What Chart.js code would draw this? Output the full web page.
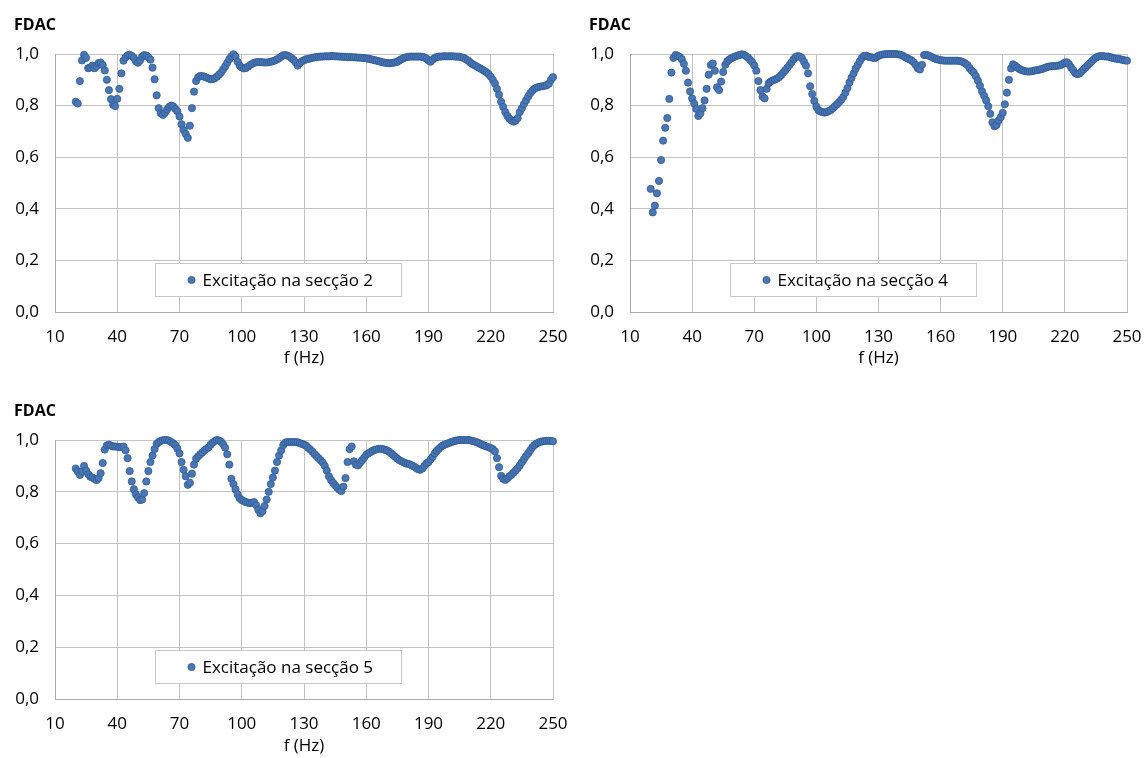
<!DOCTYPE html>
<html><head><meta charset="utf-8">
<script src="https://cdn.jsdelivr.net/npm/chart.js@4.4.1/dist/chart.umd.min.js"></script>
<style>
html,body{margin:0;padding:0;background:#fff;width:1146px;height:758px;overflow:hidden;}
.box{position:absolute;}
canvas{display:block;}
</style></head><body>
<div class="box" style="left:0;top:0;width:573px;height:370px"><canvas id="c2" width="573" height="370"></canvas></div>
<div class="box" style="left:575px;top:0;width:571px;height:370px"><canvas id="c4" width="571" height="370"></canvas></div>
<div class="box" style="left:0;top:385px;width:573px;height:373px"><canvas id="c5" width="573" height="373"></canvas></div>
<script>
// Frequencies (Hz)
const freq = [
 20,21,22,23,24,25,26,27,28,29, 30,31,32,33,34,35,36,37,38,39,
 40,41,42,43,44,45,46,47,48,49, 50,51,52,53,54,55,56,57,58,59,
 60,61,62,63,64,65,66,67,68,69, 70,71,72,73,74,75,76,77,78,79,
 80,81,82,83,84,85,86,87,88,89, 90,91,92,93,94,95,96,97,98,99,
 100,101,102,103,104,105,106,107,108,109, 110,111,112,113,114,115,116,117,118,119,
 120,121,122,123,124,125,126,127,128,129, 130,131,132,133,134,135,136,137,138,139,
 140,141,142,143,144,145,146,147,148,149, 150,151,152,153,154,155,156,157,158,159,
 160,161,162,163,164,165,166,167,168,169, 170,171,172,173,174,175,176,177,178,179,
 180,181,182,183,184,185,186,187,188,189, 190,191,192,193,194,195,196,197,198,199,
 200,201,202,203,204,205,206,207,208,209, 210,211,212,213,214,215,216,217,218,219,
 220,221,222,223,224,225,226,227,228,229, 230,231,232,233,234,235,236,237,238,239,
 240,241,242,243,244,245,246,247,248,249, 250
];

// FDAC – excitação na secção 2
const fdacSec2 = [
 0.815,0.808,0.895,0.975,0.997,0.985,0.945,0.948,0.955,0.945,
 0.953,0.965,0.967,0.957,0.936,0.900,0.860,0.825,0.803,0.798,
 0.826,0.865,0.925,0.974,0.987,0.995,0.997,0.993,0.985,0.972,
 0.966,0.975,0.990,0.996,0.994,0.987,0.978,0.947,0.902,0.840,
 0.790,0.770,0.764,0.772,0.785,0.795,0.800,0.797,0.787,0.778,
 0.758,0.728,0.705,0.690,0.675,0.722,0.790,0.854,0.895,0.910,
 0.915,0.914,0.912,0.909,0.905,0.902,0.903,0.906,0.912,0.920,
 0.928,0.940,0.952,0.966,0.980,0.991,0.999,0.990,0.970,0.955,
 0.948,0.944,0.946,0.951,0.957,0.962,0.966,0.968,0.969,0.969,
 0.968,0.967,0.967,0.968,0.970,0.972,0.975,0.979,0.984,0.990,
 0.995,0.996,0.994,0.990,0.984,0.977,0.968,0.955,0.965,0.972,
 0.976,0.979,0.981,0.983,0.985,0.987,0.988,0.989,0.990,0.990,
 0.991,0.991,0.991,0.992,0.992,0.991,0.991,0.990,0.990,0.989,
 0.989,0.988,0.988,0.988,0.987,0.987,0.986,0.986,0.985,0.984,
 0.983,0.982,0.980,0.978,0.976,0.974,0.972,0.970,0.968,0.966,
 0.965,0.964,0.965,0.966,0.968,0.970,0.975,0.980,0.984,0.987,
 0.989,0.990,0.990,0.990,0.990,0.990,0.990,0.989,0.987,0.982,
 0.975,0.970,0.978,0.985,0.988,0.990,0.990,0.991,0.991,0.991,
 0.991,0.991,0.991,0.990,0.990,0.989,0.987,0.985,0.980,0.975,
 0.968,0.962,0.957,0.953,0.948,0.944,0.939,0.934,0.929,0.922,
 0.912,0.900,0.886,0.865,0.842,0.815,0.795,0.775,0.760,0.749,
 0.742,0.738,0.742,0.752,0.775,0.790,0.806,0.820,0.835,0.848,
 0.857,0.865,0.869,0.872,0.874,0.875,0.877,0.879,0.885,0.900,
 0.910
];

// FDAC – excitação na secção 4
const fdacSec4 = [
 0.477,0.386,0.412,0.460,0.508,0.589,0.664,0.714,0.752,0.826,
 0.928,0.985,0.996,0.993,0.989,0.980,0.962,0.935,0.889,0.855,
 0.828,0.808,0.787,0.760,0.770,0.790,0.820,0.865,0.920,0.957,
 0.963,0.935,0.871,0.860,0.893,0.930,0.958,0.972,0.979,0.984,
 0.988,0.991,0.994,0.996,0.999,0.997,0.992,0.986,0.977,0.969,
 0.955,0.935,0.895,0.860,0.835,0.828,0.865,0.887,0.894,0.898,
 0.901,0.905,0.910,0.918,0.928,0.937,0.947,0.957,0.968,0.980,
 0.988,0.992,0.990,0.984,0.970,0.955,0.925,0.875,0.845,0.818,
 0.796,0.782,0.777,0.775,0.773,0.775,0.779,0.783,0.790,0.798,
 0.805,0.814,0.823,0.833,0.850,0.868,0.890,0.908,0.925,0.943,
 0.957,0.972,0.985,0.993,0.993,0.990,0.988,0.986,0.984,0.988,
 0.993,0.996,0.998,0.999,1.000,1.000,1.000,1.000,1.000,0.999,
 0.998,0.996,0.992,0.987,0.983,0.979,0.975,0.968,0.957,0.945,
 0.940,0.958,0.996,0.997,0.995,0.991,0.987,0.983,0.980,0.978,
 0.976,0.975,0.974,0.974,0.974,0.974,0.974,0.974,0.974,0.973,
 0.971,0.968,0.963,0.957,0.945,0.935,0.928,0.914,0.897,0.877,
 0.855,0.838,0.820,0.797,0.768,0.735,0.720,0.725,0.742,0.755,
 0.772,0.805,0.850,0.900,0.944,0.960,0.955,0.948,0.942,0.938,
 0.935,0.933,0.932,0.932,0.933,0.935,0.937,0.938,0.940,0.942,
 0.945,0.948,0.951,0.952,0.953,0.953,0.954,0.955,0.957,0.962,
 0.967,0.968,0.960,0.948,0.938,0.926,0.922,0.924,0.932,0.940,
 0.948,0.956,0.964,0.972,0.980,0.986,0.990,0.992,0.992,0.991,
 0.990,0.990,0.988,0.985,0.983,0.982,0.981,0.979,0.977,0.975,
 0.974
];

// FDAC – excitação na secção 5
const fdacSec5 = [
 0.890,0.878,0.865,0.878,0.900,0.882,0.868,0.858,0.855,0.850,
 0.845,0.853,0.872,0.911,0.963,0.979,0.982,0.978,0.975,0.975,
 0.974,0.972,0.973,0.975,0.960,0.930,0.880,0.840,0.810,0.790,
 0.778,0.768,0.770,0.795,0.840,0.880,0.915,0.940,0.965,0.985,
 0.992,0.997,0.999,1.000,1.000,0.997,0.992,0.987,0.980,0.966,
 0.948,0.915,0.885,0.860,0.827,0.835,0.870,0.905,0.928,0.937,
 0.945,0.952,0.960,0.966,0.972,0.982,0.990,0.996,1.000,0.998,
 0.994,0.984,0.970,0.945,0.905,0.850,0.830,0.810,0.790,0.775,
 0.768,0.764,0.760,0.758,0.756,0.758,0.760,0.748,0.730,0.717,
 0.725,0.745,0.770,0.800,0.830,0.855,0.882,0.915,0.940,0.960,
 0.980,0.990,0.992,0.992,0.992,0.992,0.992,0.991,0.988,0.985,
 0.982,0.978,0.970,0.963,0.955,0.946,0.938,0.930,0.922,0.913,
 0.900,0.882,0.860,0.846,0.835,0.825,0.816,0.808,0.803,0.820,
 0.853,0.915,0.965,0.975,0.918,0.905,0.902,0.912,0.922,0.932,
 0.943,0.948,0.953,0.958,0.962,0.964,0.966,0.966,0.965,0.962,
 0.960,0.955,0.948,0.942,0.935,0.928,0.922,0.918,0.914,0.910,
 0.908,0.906,0.902,0.898,0.892,0.887,0.885,0.890,0.900,0.910,
 0.915,0.925,0.935,0.948,0.958,0.966,0.974,0.979,0.983,0.986,
 0.989,0.992,0.995,0.997,0.999,1.000,1.000,1.000,1.000,1.000,
 0.999,0.997,0.995,0.992,0.989,0.985,0.981,0.978,0.975,0.972,
 0.969,0.965,0.956,0.930,0.895,0.862,0.850,0.846,0.852,0.860,
 0.866,0.874,0.882,0.891,0.902,0.914,0.926,0.938,0.948,0.960,
 0.972,0.980,0.986,0.990,0.993,0.995,0.996,0.997,0.997,0.996,
 0.995
];

const seriesLabels = ['Excitação na secção 2', 'Excitação na secção 4', 'Excitação na secção 5'];
const yTickLabels = ['0,0', '0,2', '0,4', '0,6', '0,8', '1,0'];
const yAxisTitle = 'FDAC';
const xAxisTitle = 'f (Hz)';

const FONT = "'Open Sans', 'DejaVu Sans', sans-serif";
Chart.defaults.font.family = FONT;
Chart.defaults.color = '#000';

const DOT = '#4A76B4';
const DOT_EDGE = '#2F5C98';
const GRID = '#C3C3C3';

const insideLegend = {
  id: 'insideLegend',
  afterDraw(chart, args, o) {
    const {ctx, chartArea} = chart;
    const ds = chart.data.datasets[0];
    const x = Math.round(chartArea.left + o.offsetX) + 0.5;
    const y = Math.round(chartArea.bottom - o.offsetBottom) + 0.5;
    ctx.save();
    ctx.fillStyle = '#fff';
    ctx.fillRect(x, y, o.width, o.height);
    ctx.strokeStyle = '#C8C8C8';
    ctx.lineWidth = 1;
    ctx.strokeRect(x, y, o.width, o.height);
    const cy = y + o.height / 2;
    ctx.beginPath();
    ctx.arc(x + o.markerX, cy, 3.6, 0, Math.PI * 2);
    ctx.fillStyle = ds.backgroundColor;
    ctx.fill();
    ctx.lineWidth = 0.8;
    ctx.strokeStyle = ds.borderColor;
    ctx.stroke();
    ctx.fillStyle = '#000';
    ctx.font = '17px ' + FONT;
    ctx.textBaseline = 'middle';
    ctx.textAlign = 'left';
    ctx.fillText(ds.label, x + o.textX, cy + 1);
    ctx.restore();
  }
};

function build(id, values, label, L) {
  const pts = freq.map((f, i) => ({x: f, y: values[i]}));
  return new Chart(document.getElementById(id), {
    type: 'scatter',
    data: {datasets: [{
      label: label,
      data: pts,
      backgroundColor: DOT,
      borderColor: DOT_EDGE,
      borderWidth: 0.8,
      pointRadius: 3.6,
      pointHoverRadius: 3.6,
      clip: false
    }]},
    options: {
      responsive: false,
      animation: false,
      events: [],
      layout: {padding: {left: L.padLeft, right: L.padRight, top: 0, bottom: 0}},
      plugins: {
        legend: {display: false},
        tooltip: {enabled: false},
        title: {
          display: true, text: yAxisTitle, align: 'start', color: '#000',
          font: {size: 16, weight: 'bold', family: FONT},
          padding: {top: L.titleTop, bottom: L.chartTop - L.titleTop - 19.2}
        },
        insideLegend: {offsetX: 100, offsetBottom: 49, width: 246, height: 33, markerX: 36, textX: 47}
      },
      scales: {
        x: {
          type: 'linear', min: 10, max: 250,
          ticks: {stepSize: 30, font: {size: 17}, color: '#000', padding: 0, maxRotation: 0},
          grid: {color: GRID, drawTicks: true, tickLength: 15, tickColor: 'rgba(0,0,0,0)'},
          border: {color: '#ABABAB'},
          title: {display: true, text: xAxisTitle, font: {size: 17}, color: '#000', padding: {top: 0, bottom: 2}},
          afterFit: s => { s.height = L.H - L.chartBottom; }
        },
        y: {
          min: 0, max: 1,
          ticks: {stepSize: 0.2, font: {size: 17}, color: '#000', padding: 16,
                  callback: (v, i) => yTickLabels[i]},
          grid: {color: GRID, drawTicks: false},
          border: {color: '#ABABAB'},
          afterFit: s => { s.width = L.chartLeft - L.padLeft; }
        }
      }
    },
    plugins: [insideLegend]
  });
}

build('c2', fdacSec2, seriesLabels[0], {padLeft: 14, padRight: 20, chartLeft: 55, titleTop: 16, chartTop: 54, chartBottom: 312, H: 370});
build('c4', fdacSec4, seriesLabels[1], {padLeft: 14, padRight: 19, chartLeft: 55, titleTop: 16, chartTop: 54, chartBottom: 312, H: 370});
build('c5', fdacSec5, seriesLabels[2], {padLeft: 14, padRight: 20, chartLeft: 55, titleTop: 17, chartTop: 55, chartBottom: 314, H: 373});
</script>
</body></html>
